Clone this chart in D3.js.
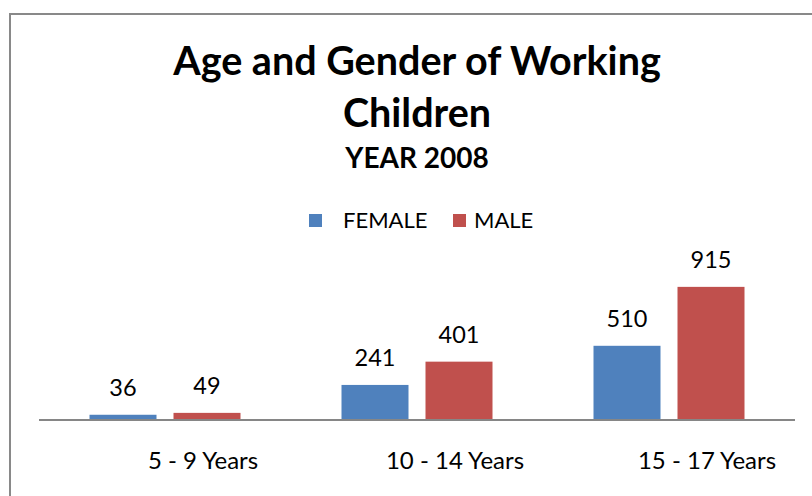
<!DOCTYPE html>
<html>
<head>
<meta charset="utf-8">
<script src="https://cdn.jsdelivr.net/npm/d3@7"></script>
<style>
  html, body { margin: 0; padding: 0; background: #fff; }
  svg { display: block; font-family: Lato, "Open Sans", sans-serif; }
</style>
</head>
<body>
<svg id="chart" width="812" height="496"></svg>
<script>
// Working children by age group and gender, 2008
const categories = ["5 - 9 Years", "10 - 14 Years", "15 - 17 Years"];
const seriesNames = ["FEMALE", "MALE"];
const female = [36, 241, 510];
const male = [49, 401, 915];
const colors = ["#4F81BD", "#C0504D"];

const svg = d3.select("#chart");

// outer chart frame (runs past the right and bottom edge)
svg.append("rect")
  .attr("x", 10).attr("y", 14)
  .attr("width", 820).attr("height", 500)
  .attr("fill", "#fff")
  .attr("stroke", "#898989")
  .attr("stroke-width", 2);

// titles
const titleG = svg.append("g").attr("font-weight", "bold").attr("fill", "#000").attr("text-anchor", "middle");
titleG.append("text").attr("x", 417).attr("y", 75).attr("font-size", 39.5).text("Age and Gender of Working");
titleG.append("text").attr("x", 417).attr("y", 127).attr("font-size", 39.5).text("Children");
titleG.append("text").attr("x", 417).attr("y", 168).attr("font-size", 28).text("YEAR 2008");

// scales
const plotLeft = 39, plotRight = 795, baseY = 420;
const x0 = d3.scaleBand().domain(categories).range([plotLeft, plotRight]).paddingInner(0).paddingOuter(0);
const x1 = d3.scaleBand().domain(seriesNames).range([0, x0.bandwidth()]).paddingInner(0.2024).paddingOuter(0.6012);
const y = d3.scaleLinear().domain([0, 1000]).range([baseY, baseY - 145.5]);

const rows = categories.map((c, i) => ({ cat: c, vals: [female[i], male[i]] }));

const groups = svg.append("g").selectAll("g")
  .data(rows).join("g")
  .attr("transform", d => `translate(${x0(d.cat)},0)`);

const cells = d => d.vals.map((v, j) => ({ key: seriesNames[j], v, j }));

groups.selectAll("rect")
  .data(cells)
  .join("rect")
  .attr("x", d => x1(d.key))
  .attr("y", d => y(d.v))
  .attr("width", x1.bandwidth())
  .attr("height", d => baseY - y(d.v))
  .attr("fill", d => colors[d.j]);

groups.selectAll("text.val")
  .data(cells)
  .join("text")
  .attr("class", "val")
  .attr("x", d => x1(d.key) + x1.bandwidth() / 2)
  .attr("y", d => y(d.v) - 19)
  .attr("text-anchor", "middle")
  .attr("font-size", 23.5)
  .attr("fill", "#000")
  .text(d => d.v);

// category axis
const xAxis = d3.axisBottom(x0).tickSize(0).tickPadding(0);
const axisG = svg.append("g")
  .attr("transform", `translate(0,${baseY})`)
  .call(xAxis);
axisG.select(".domain").attr("stroke", "#868686").attr("stroke-width", 2)
  .attr("d", `M${plotLeft},0H${plotRight}`);
axisG.selectAll(".tick text")
  .attr("font-family", "Lato, 'Open Sans', sans-serif")
  .attr("font-size", 24)
  .attr("fill", "#000")
  .attr("dx", 38)
  .attr("dy", 0)
  .attr("y", 49);

// legend
const legend = svg.append("g");
const legendItems = [
  { name: seriesNames[0], sx: 309, tx: 343 },
  { name: seriesNames[1], sx: 453, tx: 474 }
];
legendItems.forEach((it, i) => {
  legend.append("rect")
    .attr("x", it.sx).attr("y", 214)
    .attr("width", 13).attr("height", 13)
    .attr("fill", colors[i]);
  legend.append("text")
    .attr("x", it.tx).attr("y", 228)
    .attr("font-size", 22)
    .attr("fill", "#000")
    .text(it.name);
});
</script>
</body>
</html>
